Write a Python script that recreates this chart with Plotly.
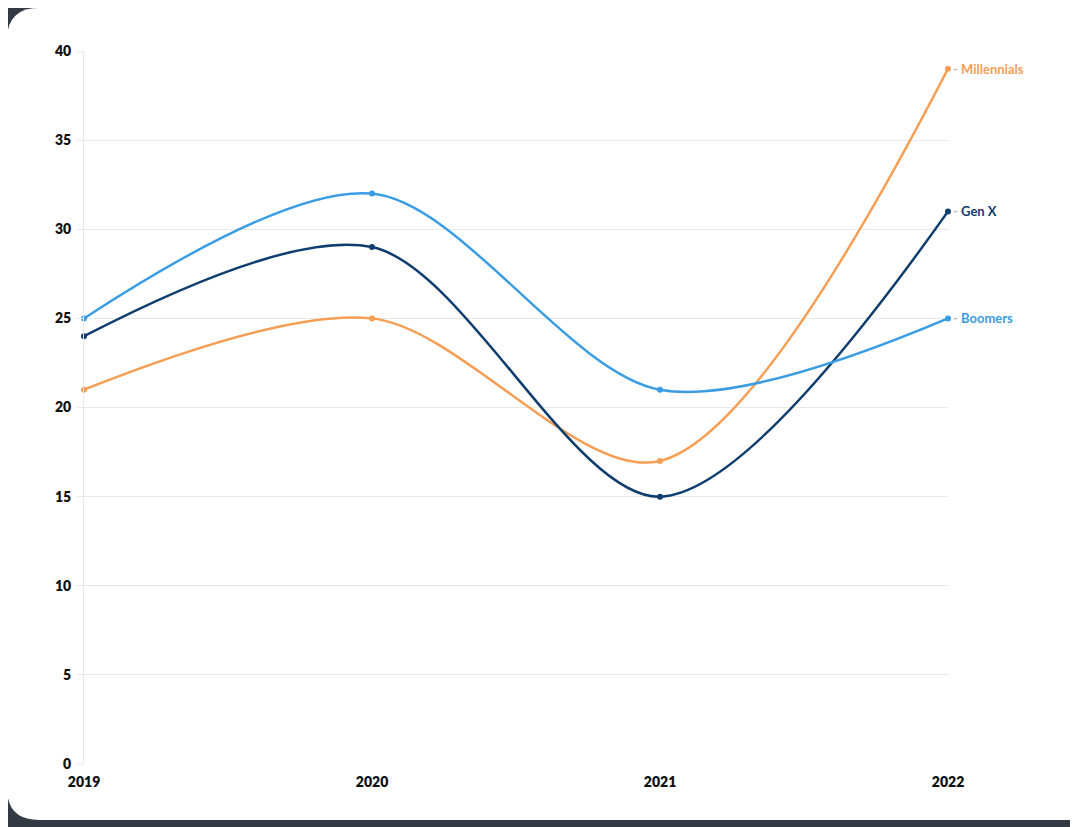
import plotly.graph_objects as go

years = [2019, 2020, 2021, 2022]
millennials = [21, 25, 17, 39]
genx = [24, 29, 15, 31]
boomers = [25, 32, 21, 25]
series = [("Millennials", millennials, "#F59E54"),
          ("Gen X", genx, "#0F3D6E"),
          ("Boomers", boomers, "#3A9DE4")]
y_ticks = [0, 5, 10, 15, 20, 25, 30, 35, 40]

OFF = 8  # page offset of the figure
W, H = 1078, 827
L, T = 84 - OFF, 51 - OFF
pw, ph = 864, 713
R = W - L - pw
B = H - T - ph

def px(x):
    return (x - OFF - L) / pw

def py(y):
    return (H - B - (y - OFF)) / ph

fig = go.Figure()
for name, vals, col in series:
    fig.add_trace(go.Scatter(x=years, y=vals, mode="lines+markers", name=name,
                             line=dict(color=col, width=2.5, shape="spline", smoothing=0.9),
                             marker=dict(color=col, size=6), cliponaxis=False))
    fig.add_annotation(x=years[-1], y=vals[-1], xref="x", yref="y", xanchor="left",
                       yanchor="middle", showarrow=False, xshift=3,
                       text=f"<span style='color:#bdbdbd'>-</span> {name}",
                       font=dict(family="Lato", size=13, color=col, weight="bold"))

# white rounded card (screen coordinates)
x0, x1, y0, y1, r = 7, 1110, 8, 820, 32
path = (f"M {px(x0+r)} {py(y0)} L {px(x1-r)} {py(y0)} "
        f"Q {px(x1)} {py(y0)} {px(x1)} {py(y0+r)} L {px(x1)} {py(y1-r)} "
        f"Q {px(x1)} {py(y1)} {px(x1-r)} {py(y1)} L {px(x0+r)} {py(y1)} "
        f"Q {px(x0)} {py(y1)} {px(x0)} {py(y1-r)} L {px(x0)} {py(y0+r)} "
        f"Q {px(x0)} {py(y0)} {px(x0+r)} {py(y0)} Z")
fig.add_shape(type="path", path=path, xref="paper", yref="paper",
              fillcolor="white", line=dict(width=0), layer="below")

fig.update_layout(
    width=W, height=H, margin=dict(l=L, r=R, t=T, b=B, pad=0),
    paper_bgcolor="#343a44", plot_bgcolor="rgba(0,0,0,0)", showlegend=False,
    font=dict(family="Lato", size=14, color="#111"),
    xaxis=dict(range=[2019, 2022], tickvals=years, ticktext=[str(y) for y in years],
               showgrid=False, zeroline=False, showline=False,
               tickfont=dict(family="Lato", size=14, color="#111", weight=800),
               ticks="", ticklabelstandoff=8),
    yaxis=dict(range=[0, 40], tickvals=y_ticks, showgrid=True, gridcolor="#e8e8e8",
               gridwidth=1, zeroline=False, showline=True, linecolor="#e8e8e8",
               tickfont=dict(family="Lato", size=14, color="#111", weight=800),
               ticks="outside", ticklen=6, tickcolor="#e8e8e8", ticklabelstandoff=3),
)
fig.write_html("out.html")
